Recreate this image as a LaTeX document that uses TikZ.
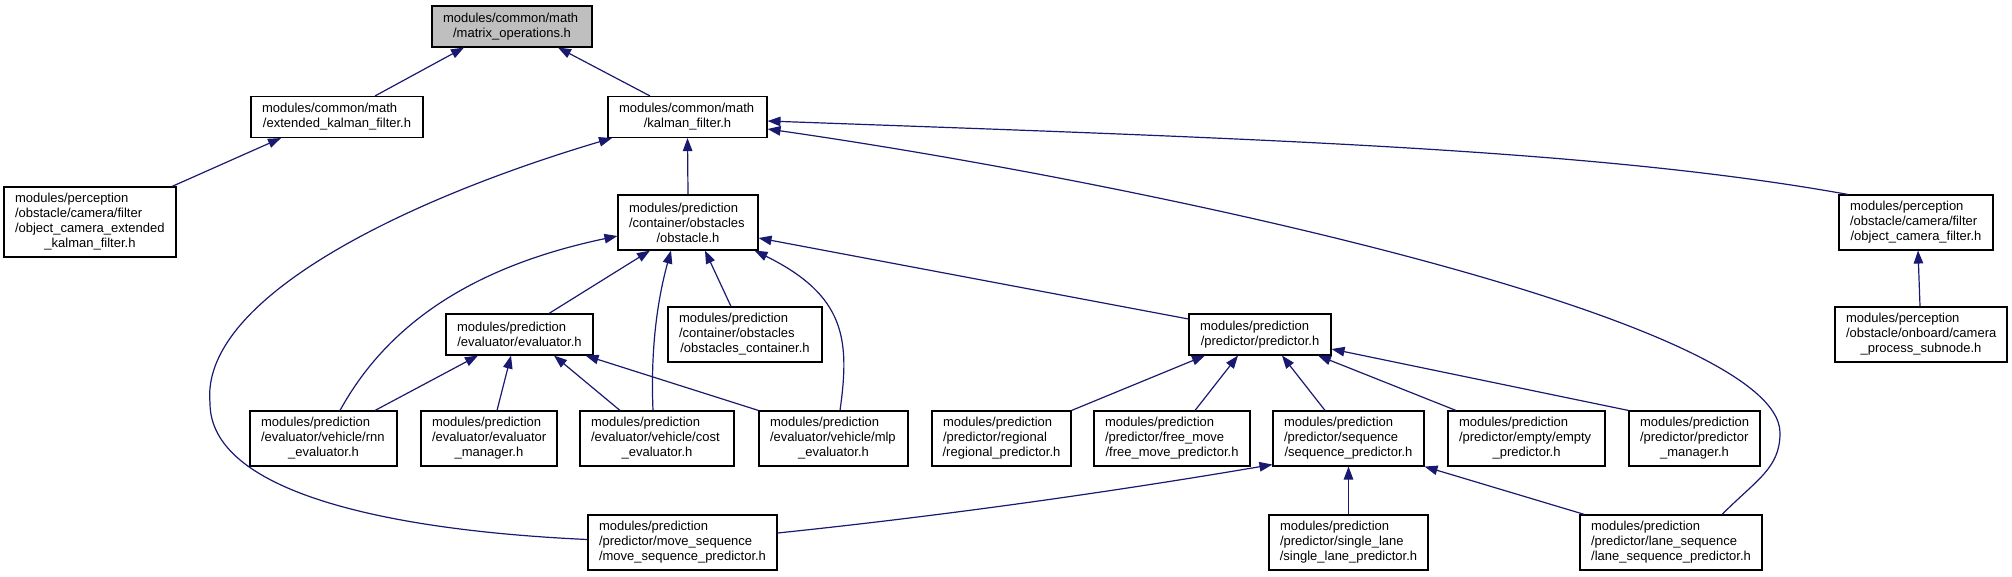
\documentclass[tikz,border=0pt]{standalone}
\usepackage{fontspec}
\setmainfont{Liberation Sans}
\usetikzlibrary{arrows.meta}
\definecolor{edgeblue}{HTML}{191970}
\definecolor{rootgray}{HTML}{BFBFBF}
\newcommand{\lastln}[1]{\makebox[\linewidth]{#1}}

\begin{document}
\begin{tikzpicture}[x=1pt, y=1pt,
  file/.style={draw=black, line width=1.1pt, fill=white, inner xsep=11pt, inner ysep=0pt,
    text width=#1pt, align=left, font=\fontsize{13}{15}\selectfont},
  twoline/.style={minimum height=41pt},
  threeline/.style={minimum height=55pt},
  fourline/.style={minimum height=70pt},
  dep/.style={draw=edgeblue, line width=1.2pt, -{Triangle[length=13pt,width=9.5pt]}}]
  \useasboundingbox (0,0) rectangle (2012,-576);

  % Top rows
  \node[file=138, twoline, fill=rootgray] (mops) at (512,-26.5) {modules/common/math\\\lastln{/matrix\_operations.h}};
  \node[file=150, twoline] (ekf) at (337,-117) {modules/common/math\\\lastln{/extended\_kalman\_filter.h}};
  \node[file=137, twoline] (kf) at (687.5,-117) {modules/common/math\\\lastln{/kalman\_filter.h}};
  \node[file=150, fourline] (oce) at (90,-222) {modules/perception\\/obstacle/camera/filter\\/object\_camera\_extended\\\lastln{\_kalman\_filter.h}};
  \node[file=118, threeline] (obst) at (688,-222.5) {modules/prediction\\/container/obstacles\\\lastln{/obstacle.h}};
  \node[file=132, threeline] (ocf) at (1916,-222.5) {modules/perception\\/obstacle/camera/filter\\\lastln{/object\_camera\_filter.h}};

  % Middle row
  \node[file=125, twoline] (eval) at (519.5,-334.5) {modules/prediction\\\lastln{/evaluator/evaluator.h}};
  \node[file=132, threeline] (cont) at (745,-334.5) {modules/prediction\\/container/obstacles\\\lastln{/obstacles\_container.h}};
  \node[file=120, twoline] (pred) at (1260,-334.5) {modules/prediction\\\lastln{/predictor/predictor.h}};
  \node[file=150, threeline] (cps) at (1921,-334.5) {modules/perception\\/obstacle/onboard/camera\\\lastln{\_process\_subnode.h}};

  % Evaluators and predictors
  \node[file=125, threeline] (rnn) at (323.5,-438.5) {modules/prediction\\/evaluator/vehicle/rnn\\\lastln{\_evaluator.h}};
  \node[file=114, threeline] (emgr) at (489,-438.5) {modules/prediction\\/evaluator/evaluator\\\lastln{\_manager.h}};
  \node[file=132, threeline] (cost) at (657,-438.5) {modules/prediction\\/evaluator/vehicle/cost\\\lastln{\_evaluator.h}};
  \node[file=127, threeline] (mlp) at (833.5,-438.5) {modules/prediction\\/evaluator/vehicle/mlp\\\lastln{\_evaluator.h}};
  \node[file=117, threeline] (reg) at (1001.5,-438.5) {modules/prediction\\/predictor/regional\\\lastln{/regional\_predictor.h}};
  \node[file=134, threeline] (free) at (1172,-438.5) {modules/prediction\\/predictor/free\_move\\\lastln{/free\_move\_predictor.h}};
  \node[file=129, threeline] (seq) at (1348.5,-438.5) {modules/prediction\\/predictor/sequence\\\lastln{/sequence\_predictor.h}};
  \node[file=135, threeline] (empty) at (1526.5,-438.5) {modules/prediction\\/predictor/empty/empty\\\lastln{\_predictor.h}};
  \node[file=109, threeline] (pmgr) at (1694.5,-438.5) {modules/prediction\\/predictor/predictor\\\lastln{\_manager.h}};

  % Bottom row
  \node[file=167, threeline] (mseq) at (682.5,-542.5) {modules/prediction\\/predictor/move\_sequence\\\lastln{/move\_sequence\_predictor.h}};
  \node[file=137, threeline] (single) at (1348.5,-542.5) {modules/prediction\\/predictor/single\_lane\\\lastln{/single\_lane\_predictor.h}};
  \node[file=160, threeline] (lane) at (1671,-542.5) {modules/prediction\\/predictor/lane\_sequence\\\lastln{/lane\_sequence\_predictor.h}};

  % Includes of matrix_operations.h and kalman_filter.h
  \draw[dep] ([xshift=38pt]ekf.north) -- ([xshift=-48pt]mops.south);
  \draw[dep] ([xshift=-37.5pt]kf.north) -- ([xshift=46pt]mops.south);
  \draw[dep] ([xshift=82pt]oce.north) -- ([xshift=-56pt]ekf.south);
  \draw[dep] (obst.north) -- (kf.south);
  \draw[dep] ([xshift=-68pt]ocf.north) .. controls +(-250,45) and +(500,-18) .. ([yshift=-4pt]kf.east);
  \draw[dep] ([xshift=51pt]lane.north) .. controls +(35,35) and +(0,-35) .. (1780,-433)
    .. controls +(0,113) and +(383,-55) .. ([yshift=-12pt]kf.east);
  \draw[dep] ([yshift=3pt]mseq.west) .. controls +(-208,9.5) and +(0,-87) .. (210,-403)
    .. controls +(-10,103) and +(-212,-63) .. ([xshift=-75.5pt]kf.south);

  % Includes of obstacle.h
  \draw[dep] ([xshift=29.5pt]eval.north) -- ([xshift=-38pt]obst.south);
  \draw[dep] ([xshift=16.5pt]rnn.north) .. controls +(50,91) and +(-138,-29) .. ([yshift=-13.5pt]obst.west);
  \draw[dep] ([xshift=-4pt]cost.north) .. controls +(-3,71) and +(-11,-40) .. ([xshift=-17pt]obst.south);
  \draw[dep] ([xshift=-14pt]cont.north) -- ([xshift=17pt]obst.south);
  \draw[dep] ([xshift=6.5pt]mlp.north) .. controls +(10,71) and +(91,-45) .. ([xshift=-4pt]obst.south east);
  \draw[dep] ([yshift=15.5pt]pred.west) -- ([yshift=-15.5pt]obst.east);

  % Includes of evaluator.h
  \draw[dep] ([xshift=51.5pt]rnn.north) -- ([xshift=-41.5pt]eval.south);
  \draw[dep] ([xshift=8pt]emgr.north) -- ([xshift=-8.5pt]eval.south);
  \draw[dep] ([xshift=-37pt]cost.north) -- ([xshift=34.5pt]eval.south);
  \draw[dep] (mlp.north west) -- ([xshift=-8pt]eval.south east);

  % Includes of predictor.h
  \draw[dep] (reg.north east) -- ([xshift=-55pt]pred.south);
  \draw[dep] ([xshift=23pt]free.north) -- ([xshift=-22pt]pred.south);
  \draw[dep] ([xshift=-23.5pt]seq.north) -- ([xshift=22pt]pred.south);
  \draw[dep] ([xshift=-70.5pt]empty.north) -- ([xshift=58pt]pred.south);
  \draw[dep] (pmgr.north west) -- ([yshift=-14.5pt]pred.east);

  % Includes of sequence_predictor.h
  \draw[dep] ([yshift=9.5pt]mseq.east) .. controls +(173,18) and +(-153,-26) .. ([yshift=2pt]seq.south west);
  \draw[dep] (single.north) -- (seq.south);
  \draw[dep] ([xshift=5pt]lane.north west) -- (seq.south east);

  % Includes of object_camera_filter.h
  \draw[dep] ([xshift=-1pt]cps.north) -- ([xshift=2pt]ocf.south);
\end{tikzpicture}
\end{document}
